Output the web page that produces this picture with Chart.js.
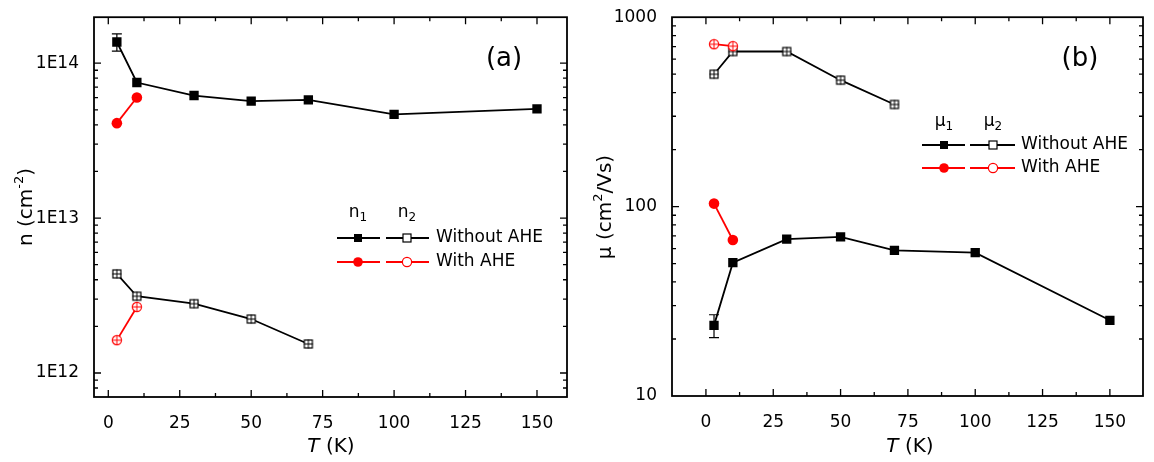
<!DOCTYPE html>
<html>
<head>
<meta charset="utf-8">
<script src="https://cdn.jsdelivr.net/npm/chart.js@4.4.0/dist/chart.umd.min.js"></script>
<style>
  html, body { margin: 0; padding: 0; background: #fff; }
  .wrap { position: relative; width: 1154px; height: 462px; }
  canvas { position: absolute; top: 0; }
  #chartA { left: 0; }
  #chartB { left: 577px; }
</style>
</head>
<body>
<div class="wrap">
  <canvas id="chartA" width="577" height="462"></canvas>
  <canvas id="chartB" width="577" height="462"></canvas>
</div>
<script>
// DATA
var temps     = [3, 10, 30, 50, 70, 100, 150];
var tempsAhe  = [3, 10];
var tempsN2   = [3, 10, 30, 50, 70];

var n1Without = [1.37e14, 7.5e13, 6.18e13, 5.69e13, 5.80e13, 4.67e13, 5.07e13];
var n1Err     = [1.75e13, 0, 0, 0, 0, 0, 0];
var n1With    = [4.1e13, 6.0e13];
var n2Without = [4.36e12, 3.13e12, 2.80e12, 2.23e12, 1.54e12];
var n2With    = [1.63e12, 2.67e12];

var mu1Without = [23.6, 50.6, 67.3, 69.2, 58.7, 57.1, 25.1];
var mu1Err     = [3.25, 0, 0, 0, 0, 0, 0];
var mu1With    = [103.7, 66.6];
var mu2Without = [500, 659, 659, 465, 346];
var mu2With    = [720, 703];

var xTicks  = [0, 25, 50, 75, 100, 125, 150];
var nTicks  = [1e12, 1e13, 1e14];
var muTicks = [10, 100, 1000];

var FONT = "'DejaVu Sans', Verdana, sans-serif";

function pts(xs, ys) {
  return xs.map(function(x, i) { return { x: x, y: ys[i] }; });
}

// marker images: open square / circle with a small cross inside
function openMarker(shape, color, cross) {
  var c = document.createElement('canvas');
  c.width = 12; c.height = 12;
  var g = c.getContext('2d');
  g.strokeStyle = color;
  g.fillStyle = '#fff';
  g.lineWidth = 1.2;
  if (shape === 'square') {
    g.fillRect(2, 2, 8, 8);
    g.strokeRect(2, 2, 8, 8);
  } else {
    g.beginPath();
    g.arc(6, 6, 4.6, 0, Math.PI * 2);
    g.fill();
    g.stroke();
  }
  if (cross) {
    g.lineWidth = 1;
    g.beginPath();
    g.moveTo(6, 1.5); g.lineTo(6, 10.5);
    g.moveTo(1.5, 6); g.lineTo(10.5, 6);
    g.stroke();
  }
  return c;
}

var sqCross = openMarker('square', '#000', true);
var ciCross = openMarker('circle', '#f00', true);

// draws pieces of text (for sub/superscripts) centered at x
function drawParts(ctx, parts, x, y, align) {
  var total = 0;
  parts.forEach(function(p) { ctx.font = p.f; p.w = ctx.measureText(p.t).width; total += p.w; });
  var cx = align === 'left' ? x : x - total / 2;
  ctx.textBaseline = 'middle';
  ctx.textAlign = 'left';
  parts.forEach(function(p) {
    ctx.font = p.f;
    ctx.fillText(p.t, cx, y + (p.dy || 0));
    cx += p.w;
  });
}

function legendMarker(ctx, kind, x, y) {
  ctx.save();
  if (kind === 'fsq') {
    ctx.fillStyle = '#000';
    ctx.fillRect(x - 4, y - 4, 8, 8);
  } else if (kind === 'osq') {
    ctx.fillStyle = '#fff';
    ctx.strokeStyle = '#000';
    ctx.lineWidth = 1.2;
    ctx.fillRect(x - 4, y - 4, 8, 8);
    ctx.strokeRect(x - 4, y - 4, 8, 8);
  } else if (kind === 'fci') {
    ctx.fillStyle = '#f00';
    ctx.beginPath(); ctx.arc(x, y, 4.8, 0, Math.PI * 2); ctx.fill();
  } else {
    ctx.fillStyle = '#fff';
    ctx.strokeStyle = '#f00';
    ctx.lineWidth = 1.2;
    ctx.beginPath(); ctx.arc(x, y, 4.6, 0, Math.PI * 2); ctx.fill(); ctx.stroke();
  }
  ctx.restore();
}

// frame, inward ticks, error bars, legend and labels
function makeDeco(cfg) {
  return {
    id: 'deco',
    beforeDatasetsDraw: function(chart) {
      var ctx = chart.ctx, xs = chart.scales.x, ys = chart.scales.y;
      ctx.save();
      ctx.strokeStyle = '#000';
      ctx.lineWidth = 1.2;
      ctx.beginPath();
      cfg.err.forEach(function(e, i) {
        if (!e) return;
        var px = xs.getPixelForValue(cfg.errX[i]);
        var top = ys.getPixelForValue(cfg.errY[i] + e);
        var bot = ys.getPixelForValue(cfg.errY[i] - e);
        ctx.moveTo(px, top); ctx.lineTo(px, bot);
        ctx.moveTo(px - 5, top); ctx.lineTo(px + 5, top);
        ctx.moveTo(px - 5, bot); ctx.lineTo(px + 5, bot);
      });
      ctx.stroke();
      ctx.restore();
    },
    afterDraw: function(chart) {
      var ctx = chart.ctx, a = chart.chartArea;
      var xs = chart.scales.x, ys = chart.scales.y;
      ctx.save();
      ctx.strokeStyle = '#000';
      ctx.lineWidth = 1.8;
      ctx.strokeRect(a.left, a.top, a.right - a.left, a.bottom - a.top);

      ctx.lineWidth = 1.3;
      ctx.beginPath();
      function xt(v, len) {
        var px = xs.getPixelForValue(v);
        if (px < a.left + 2 || px > a.right - 2) return;
        ctx.moveTo(px, a.bottom); ctx.lineTo(px, a.bottom - len);
        ctx.moveTo(px, a.top); ctx.lineTo(px, a.top + len);
      }
      function yt(v, len) {
        var py = ys.getPixelForValue(v);
        if (py < a.top + 2 || py > a.bottom - 2) return;
        ctx.moveTo(a.left, py); ctx.lineTo(a.left + len, py);
        ctx.moveTo(a.right, py); ctx.lineTo(a.right - len, py);
      }
      xTicks.forEach(function(v) { xt(v, 7); xt(v - 12.5, 4); });
      xt(162.5, 4);
      cfg.yTicks.forEach(function(v) {
        yt(v, 7);
        for (var k = 2; k <= 9; k++) { yt(v * k, 4); yt(v * k / 10, 4); }
      });
      ctx.stroke();

      // panel label
      ctx.fillStyle = '#000';
      ctx.font = '26px ' + FONT;
      ctx.textAlign = 'center';
      ctx.textBaseline = 'middle';
      ctx.fillText(cfg.label, cfg.labelX, 59);

      // axis titles
      drawParts(ctx, [
        { t: 'T', f: 'italic 20px ' + FONT },
        { t: ' (K)', f: '20px ' + FONT }
      ], cfg.xTitleX, 447);
      ctx.save();
      ctx.translate(cfg.yTitleX, 207);
      ctx.rotate(-Math.PI / 2);
      drawParts(ctx, cfg.yTitle, 0, 0);
      ctx.restore();

      // legend
      var L = cfg.legend;
      drawParts(ctx, [{ t: L.sym, f: '17px ' + FONT }, { t: '1', f: '12px ' + FONT, dy: 5 }], L.m1, L.headY);
      drawParts(ctx, [{ t: L.sym, f: '17px ' + FONT }, { t: '2', f: '12px ' + FONT, dy: 5 }], L.m2, L.headY);
      var rows = [
        { color: '#000', a: 'fsq', b: 'osq', text: 'Without AHE', y: L.row1 },
        { color: '#f00', a: 'fci', b: 'oci', text: 'With AHE', y: L.row2 }
      ];
      rows.forEach(function(r) {
        ctx.strokeStyle = r.color;
        ctx.lineWidth = 1.8;
        ctx.beginPath();
        ctx.moveTo(L.s1[0], r.y); ctx.lineTo(L.s1[1], r.y);
        ctx.moveTo(L.s2[0], r.y); ctx.lineTo(L.s2[1], r.y);
        ctx.stroke();
        legendMarker(ctx, r.a, L.m1, r.y);
        legendMarker(ctx, r.b, L.m2, r.y);
        ctx.fillStyle = '#000';
        drawParts(ctx, [{ t: r.text, f: '17px ' + FONT }], L.textX, r.y, 'left');
      });
      ctx.restore();
    }
  };
}

function baseOptions(o) {
  return {
    responsive: false,
    animation: false,
    layout: { padding: { top: o.top, right: o.right, bottom: 0, left: 0 } },
    plugins: { legend: { display: false }, tooltip: { enabled: false } },
    elements: { line: { tension: 0 } },
    scales: {
      x: {
        type: 'linear',
        min: o.xMin,
        max: o.xMax,
        grid: { display: false },
        border: { display: false },
        afterBuildTicks: function(s) { s.ticks = xTicks.map(function(v) { return { value: v }; }); },
        afterFit: function(s) { s.height = o.xH; },
        ticks: { color: '#000', padding: 8, maxRotation: 0, font: { family: FONT, size: 17 } }
      },
      y: {
        type: 'logarithmic',
        min: o.yMin,
        max: o.yMax,
        grid: { display: false },
        border: { display: false },
        afterBuildTicks: function(s) { s.ticks = o.yTicks.map(function(v) { return { value: v }; }); },
        afterFit: function(s) { s.width = o.yW; },
        ticks: { color: '#000', padding: 7, font: { family: FONT, size: 17 }, callback: o.fmt }
      }
    }
  };
}

function ds(data, color, style, radius) {
  return {
    data: data,
    borderColor: color,
    borderWidth: 1.8,
    backgroundColor: color,
    pointStyle: style,
    pointRadius: radius,
    pointBorderWidth: 0,
    fill: false
  };
}

// Left Chart Start
new Chart(document.getElementById('chartA'), {
  type: 'line',
  data: {
    datasets: [
      ds(pts(tempsAhe, n1With), '#f00', 'circle', 5.3),
      ds(pts(tempsAhe, n2With), '#f00', ciCross, 6),
      ds(pts(temps, n1Without), '#000', 'rect', 6.6),
      ds(pts(tempsN2, n2Without), '#000', sqCross, 6)
    ]
  },
  options: baseOptions({
    top: 17, right: 10, xH: 65, yW: 94,
    xMin: -5, xMax: 160.5, yMin: 7e11, yMax: 1.98e14, yTicks: nTicks,
    fmt: function(v) { return '1E' + Math.round(Math.log10(v)); }
  }),
  plugins: [makeDeco({
    label: '(a)', labelX: 504, xTitleX: 331, yTitleX: 27, yTicks: nTicks,
    yTitle: [
      { t: 'n (cm', f: '20px ' + FONT },
      { t: '-2', f: '13px ' + FONT, dy: -7 },
      { t: ')', f: '20px ' + FONT }
    ],
    err: n1Err, errX: temps, errY: n1Without,
    legend: { sym: 'n', headY: 213, row1: 238, row2: 262, m1: 358, m2: 407, s1: [337, 380], s2: [386, 429], textX: 436 }
  })]
});
// Left Chart End

// Right Chart Start
new Chart(document.getElementById('chartB'), {
  type: 'line',
  data: {
    datasets: [
      ds(pts(tempsAhe, mu1With), '#f00', 'circle', 5.3),
      ds(pts(tempsAhe, mu2With), '#f00', ciCross, 6),
      ds(pts(temps, mu1Without), '#000', 'rect', 6.6),
      ds(pts(tempsN2, mu2Without), '#000', sqCross, 6)
    ]
  },
  options: baseOptions({
    top: 16, right: 11, xH: 66, yW: 95,
    xMin: -12.6, xMax: 162.3, yMin: 10, yMax: 1000, yTicks: muTicks,
    fmt: function(v) { return String(v); }
  }),
  plugins: [makeDeco({
    label: '(b)', labelX: 503, xTitleX: 333, yTitleX: 29, yTicks: muTicks,
    yTitle: [
      { t: '\u03bc (cm', f: '20px ' + FONT },
      { t: '2', f: '13px ' + FONT, dy: -7 },
      { t: '/Vs)', f: '20px ' + FONT }
    ],
    err: mu1Err, errX: temps, errY: mu1Without,
    legend: { sym: '\u03bc', headY: 122, row1: 145, row2: 168, m1: 367, m2: 416, s1: [345, 388], s2: [393, 438], textX: 444 }
  })]
});
// Right Chart End
</script>
</body>
</html>
